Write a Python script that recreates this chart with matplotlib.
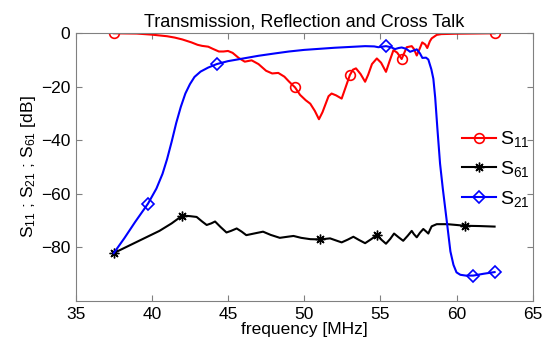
import matplotlib
matplotlib.use("Agg")
import matplotlib.pyplot as plt
import numpy as np

plt.rcParams['font.family'] = ['Liberation Sans', 'DejaVu Sans']
plt.rcParams['mathtext.default'] = 'regular'

# S11 (reflection)
f11 = [37.5, 39.0, 40.0, 41.0, 41.5, 42.0, 42.6, 43.0, 43.3, 43.7, 44.0, 44.4,
       44.7, 45.0, 45.3, 45.7, 46.1, 46.55, 47.0, 47.5, 47.9, 48.3, 48.7, 49.0,
       49.4, 49.73, 50.1, 50.4, 50.7, 50.97, 51.2, 51.4, 51.6, 51.8, 52.1, 52.46,
       52.7, 53.0, 53.2, 53.4, 53.7, 54.0, 54.2, 54.45, 54.77, 55.05, 55.37, 55.6,
       55.86, 56.1, 56.4, 56.73, 57.06, 57.2, 57.39, 57.6, 57.75, 57.95, 58.08,
       58.25, 58.37, 58.7, 59.0, 60.0, 62.5]
s11 = [0.0, -0.1, -0.5, -1.1, -1.6, -2.3, -3.4, -4.3, -4.7, -5.0, -5.8, -6.8,
       -6.8, -6.6, -7.3, -9.2, -10.6, -10.1, -11.5, -14.0, -15.0, -14.8, -16.2, -18.0,
       -20.2, -23.0, -25.0, -26.3, -29.0, -32.1, -29.5, -26.5, -23.5, -22.5, -23.2, -24.4,
       -20.5, -15.6, -13.6, -13.1, -15.2, -18.1, -15.5, -11.5, -9.4, -11.0, -14.4, -10.5,
       -6.3, -7.2, -9.6, -5.2, -4.8, -5.8, -8.3, -5.5, -3.4, -4.2, -5.5,
       -3.0, -1.9, -0.6, -0.3, -0.15, 0.0]
mk11 = [0, 24, 37, 50, 64]

# S61 (cross talk)
f61 = [37.5, 38.8, 40.5, 41.3, 42.0, 42.5, 42.94, 43.3, 43.6, 43.9, 44.15, 44.5,
       44.9, 45.2, 45.57, 45.9, 46.2, 46.7, 47.3, 47.8, 48.4, 48.9, 49.3, 49.8,
       50.4, 51.04, 51.7, 52.1, 52.46, 52.85, 53.23, 53.6, 54.0, 54.4, 54.77, 55.05,
       55.37, 55.65, 55.9, 56.2, 56.5, 56.8, 57.06, 57.2, 57.39, 57.6, 57.82, 58.0,
       58.15, 58.25, 58.37, 58.7, 59.4, 60.0, 60.56, 61.5, 62.5]
s61 = [-82.1, -78.5, -73.8, -71.0, -68.1, -68.3, -68.6, -70.3, -71.6, -71.0, -70.3, -72.3,
       -74.4, -73.8, -72.9, -74.1, -75.4, -74.8, -74.1, -75.3, -76.4, -76.0, -75.7, -76.4,
       -76.9, -77.0, -76.6, -77.4, -78.1, -77.1, -76.0, -77.2, -78.4, -76.9, -75.4, -77.0,
       -78.6, -76.8, -74.8, -76.2, -77.5, -75.6, -73.8, -75.0, -76.2, -74.5, -73.1, -74.0,
       -74.8, -73.5, -72.1, -71.3, -71.3, -71.6, -71.9, -72.0, -72.2]
mk61 = [0, 4, 25, 34, 54]

# S21 (transmission)
f21 = [37.5, 38.2, 38.9, 39.75, 40.3, 40.7, 41.0, 41.3, 41.6, 41.9, 42.2, 42.5,
       42.8, 43.2, 43.7, 44.26, 45.0, 45.9, 47.0, 48.1, 49.0, 50.0, 51.0, 52.0,
       53.0, 54.0, 54.6, 54.87, 55.37, 55.7, 55.96, 56.2, 56.4, 56.7, 56.95, 57.2,
       57.39, 57.6, 57.76, 58.0, 58.15, 58.35, 58.48, 58.6, 58.75, 58.92, 59.1, 59.4,
       59.6, 59.8, 60.0, 60.25, 60.6, 61.1, 61.8, 62.5]
s21 = [-82.1, -76.5, -70.5, -63.6, -58.0, -52.5, -47.0, -40.5, -33.5, -27.5, -22.5, -19.0,
       -16.3, -14.3, -12.8, -11.5, -10.4, -9.5, -8.4, -7.5, -6.8, -6.2, -5.8, -5.4,
       -5.1, -4.8, -4.9, -5.2, -4.8, -5.2, -5.9, -5.5, -5.3, -5.8, -6.9, -6.4,
       -6.0, -7.5, -9.2, -9.1, -9.8, -13.5, -17.0, -24.0, -36.0, -48.7, -58.0, -72.0,
       -81.5, -86.5, -89.3, -90.2, -90.5, -90.5, -89.8, -89.2]
mk21 = [3, 15, 28, 53, 55]

fig = plt.figure(figsize=(5.5, 3.49), dpi=100)
ax = fig.add_axes([0.1376, 0.1375, 0.8309, 0.7671])

lw = 1.5
ax.plot(f11, s11, color='red', lw=lw, marker='o', markevery=mk11, ms=7,
        mfc='none', mec='red', mew=1.2, label='S$_{11}$')
ax.plot(f61, s61, color='black', lw=lw, marker=(8, 2, 0), markevery=mk61, ms=7,
        mec='black', mew=1.0, label='S$_{61}$')
ax.plot(f21, s21, color='blue', lw=lw, marker='D', markevery=mk21, ms=6,
        mfc='none', mec='blue', mew=1.2, label='S$_{21}$')

ax.set_xlim(35, 65)
ax.set_ylim(-100, 0)
ax.set_xticks([35, 40, 45, 50, 55, 60, 65])
ax.set_yticks([-80, -60, -40, -20, 0])
ax.tick_params(direction='in', top=True, right=True, labelsize=12.5, length=4,
               color='#808080', pad=4)
for sp in ax.spines.values():
    sp.set_color('#808080')

ax.set_title('Transmission, Reflection and Cross Talk', fontsize=13, pad=5)
ax.set_xlabel('frequency [MHz]', fontsize=12.5, labelpad=0)
ax.set_ylabel('S$_{11}$ ; S$_{21}$ ; S$_{61}$ [dB]', fontsize=12.5, labelpad=2)

ax.legend(loc='upper left', bbox_to_anchor=(0.828, 0.67), frameon=False,
          fontsize=14, handlelength=1.75, labelspacing=0.5, handletextpad=0.2,
          borderaxespad=0)

fig.savefig('out.png', dpi=100)
